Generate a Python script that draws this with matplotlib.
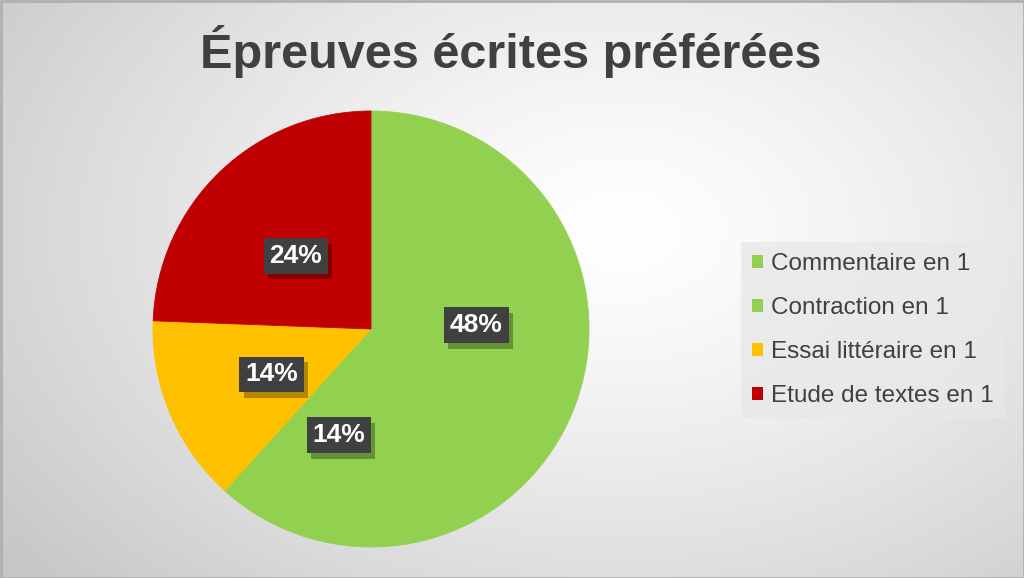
import numpy as np
import matplotlib.pyplot as plt
from matplotlib.patches import Patch
import matplotlib.patheffects as pe
import matplotlib.transforms as mtransforms

plt.rcParams['font.family'] = ['Liberation Sans', 'DejaVu Sans']

# data (shares in %, labels shown rounded)
labels = ['Commentaire en 1', 'Contraction en 1', 'Essai littéraire en 1', 'Etude de textes en 1']
values = [47.7, 14.0, 13.9, 24.4]
colors = ['#92D050', '#92D050', '#FFC000', '#C00000']
title = 'Épreuves écrites préférées'

W, H = 1024, 578
fig = plt.figure(figsize=(W / 100, H / 100), dpi=100)

# background radial gradient
bg = fig.add_axes([0, 0, 1, 1])
yy, xx = np.mgrid[0:H, 0:W]
d = np.sqrt(((xx - 620) / 620.0) ** 2 + ((yy - 230) / 420.0) ** 2)
d = np.clip(d / 1.25, 0, 1)
shade = 1.0 - 0.22 * d ** 1.3
img = np.dstack([shade, shade, shade])
bg.imshow(img, extent=[0, W, H, 0], aspect='auto')
bg.set_xlim(0, W)
bg.set_ylim(H, 0)
bg.axis('off')
bg.add_patch(plt.Rectangle((0.5, 0.5), W - 1, H - 1, fill=False, edgecolor='#b0b0b0', lw=2))

# pie
cx, cy, r = 371, 329, 218
ax = fig.add_axes([(cx - r) / W, (H - cy - r) / H, 2 * r / W, 2 * r / H])
wedges, _ = ax.pie(values, colors=colors, startangle=90, counterclock=False,
                   radius=1, wedgeprops=dict(linewidth=0))
for w in wedges:
    w.set_edgecolor(w.get_facecolor())
    w.set_linewidth(0.6)
ax.set_xlim(-1, 1)
ax.set_ylim(-1, 1)
ax.set_aspect('equal')
ax.axis('off')

# data labels
start = 90.0
total = sum(values)
for v in values:
    span = 360.0 * v / total
    mid = np.deg2rad(start - span / 2)
    start -= span
    x, y = 0.49 * np.cos(mid), 0.49 * np.sin(mid)
    base = mtransforms.offset_copy(ax.transData, fig=fig, x=-1, y=-4, units='dots')
    t = ax.text(x, y, f'{round(v)}%', transform=base, ha='center', va='center',
                fontsize=19, fontweight='bold', color='white',
                bbox=dict(boxstyle='square,pad=0.22', fc='#404040', ec='none'))
    t.get_bbox_patch().set_path_effects([
        pe.SimplePatchShadow(offset=(3, -4), shadow_rgbFace='black', alpha=0.3),
        pe.Normal()])

# title
fig.text(511 / W, 1 - 51 / H, title, ha='center', va='center', fontsize=35,
         fontweight='bold', color='#404040')

# legend
handles = [Patch(facecolor=c, edgecolor='none') for c in colors]
leg = fig.legend(handles, labels, loc='center left', bbox_to_anchor=(741 / W, 1 - 330 / H),
                 frameon=True, fontsize=17.5, labelcolor='#404040', handlelength=0.45,
                 handleheight=0.45, handletextpad=0.35, labelspacing=0.9,
                 borderpad=0.45, borderaxespad=0, fancybox=False)
leg.get_frame().set_facecolor('#e8e8e8')
leg.get_frame().set_edgecolor('none')
leg.get_frame().set_alpha(0.8)

fig.savefig('out.png', dpi=100)
